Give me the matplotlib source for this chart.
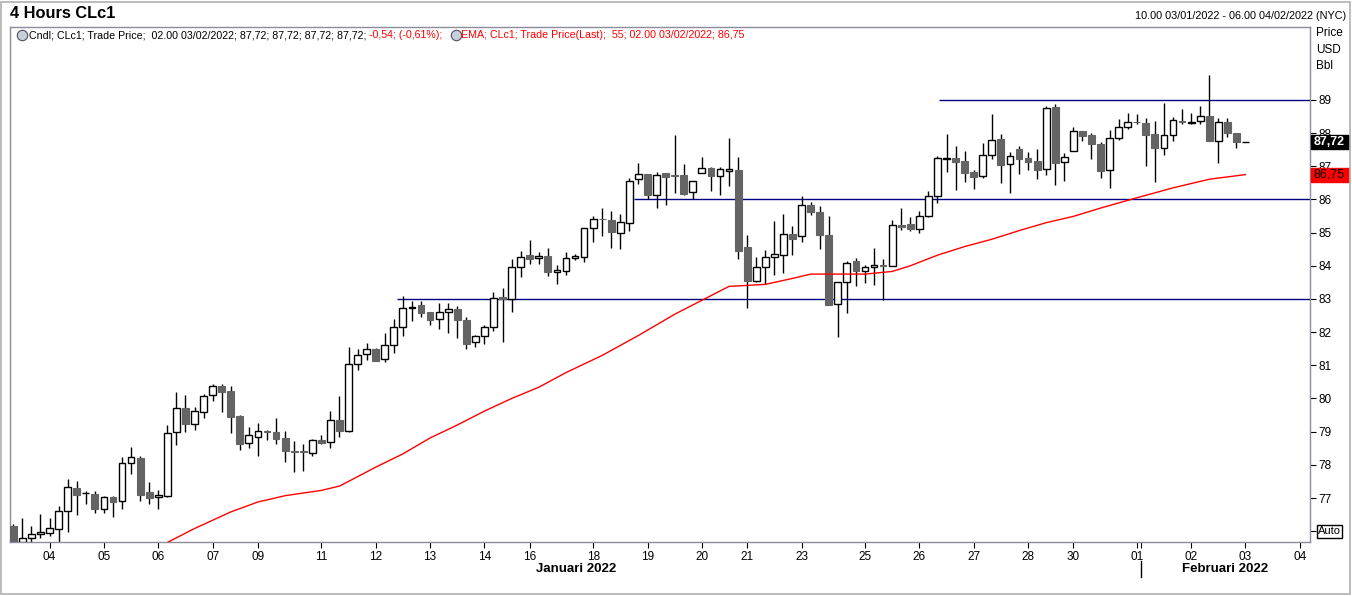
import matplotlib
matplotlib.use("Agg")
import matplotlib.pyplot as plt
from matplotlib.patches import Rectangle
from matplotlib.lines import Line2D

plt.rcParams["font.family"] = ["Liberation Sans", "DejaVu Sans"]

W, H = 1352, 596

# 4-hour candles, CLc1, 03/01/2022 10.00 -> 03/02/2022 02.00
OPEN = [76.16, 75.67, 75.79, 75.93, 75.94, 76.08, 76.60, 77.30, 77.14, 77.12,
        76.66, 77.03, 76.90, 78.05, 78.21, 77.18, 77.02, 77.07, 78.98, 79.71,
        79.22, 79.59, 80.11, 80.38, 80.23, 79.47, 78.65, 78.83, 79.01, 78.99,
        78.81, 78.41, 78.40, 78.36, 78.75, 78.68, 79.35, 79.03, 81.03, 81.33,
        81.48, 81.18, 81.60, 82.15, 82.72, 82.82, 82.60, 82.39, 82.60, 82.70,
        82.37, 81.69, 81.87, 82.15, 83.06, 83.00, 83.96, 84.32, 84.23, 84.29,
        83.81, 83.83, 84.23, 84.26, 85.13, 85.41, 85.37, 84.98, 85.29, 86.61,
        86.76, 86.13, 86.80, 86.72, 86.74, 86.24, 86.79, 86.94, 86.70, 86.85,
        86.89, 84.57, 83.55, 83.96, 84.26, 84.32, 84.95, 84.89, 85.83, 85.62,
        84.93, 82.84, 83.50, 84.15, 83.84, 83.96, 84.01, 84.00, 85.23, 85.25,
        85.10, 85.51, 86.10, 87.23, 87.24, 87.16, 86.82, 86.70, 87.33, 87.82,
        87.06, 87.52, 87.24, 87.16, 86.91, 88.78, 87.12, 87.45, 88.06, 87.94,
        87.68, 86.88, 87.84, 88.18, 88.34, 88.31, 87.97, 87.54, 87.93, 88.36,
        88.31, 88.36, 88.52, 87.77, 88.34, 88.00, 87.72]
HIGH = [76.22, 76.41, 76.17, 76.52, 76.40, 76.76, 77.57, 77.51, 77.20, 77.21,
        77.06, 77.06, 78.23, 78.53, 78.26, 77.47, 77.24, 79.19, 80.20, 80.11,
        79.74, 80.14, 80.43, 80.43, 80.39, 79.50, 79.13, 79.25, 79.05, 79.41,
        79.02, 78.72, 78.63, 78.77, 78.90, 79.62, 80.09, 81.55, 81.49, 81.67,
        81.52, 81.97, 82.39, 83.09, 82.94, 82.94, 82.60, 82.88, 82.88, 82.79,
        82.46, 81.91, 82.23, 83.20, 83.33, 84.21, 84.44, 84.78, 84.41, 84.53,
        84.02, 84.41, 84.36, 85.13, 85.49, 85.74, 85.64, 85.55, 86.64, 87.09,
        86.76, 86.82, 86.80, 87.94, 87.07, 86.56, 87.28, 86.98, 86.98, 87.85,
        87.28, 84.93, 84.27, 84.48, 85.36, 85.56, 85.20, 86.11, 85.92, 85.79,
        85.50, 83.50, 84.15, 84.24, 84.03, 84.55, 84.21, 85.38, 85.73, 85.47,
        85.64, 86.26, 87.31, 87.97, 87.61, 87.46, 86.89, 87.70, 88.58, 87.97,
        87.43, 87.61, 87.43, 87.51, 88.81, 88.87, 87.41, 88.19, 88.06, 88.00,
        87.74, 88.09, 88.42, 88.61, 88.58, 88.46, 88.37, 88.91, 88.49, 88.74,
        88.61, 88.81, 89.75, 88.45, 88.46, 88.00, 87.72]
LOW = [75.50, 75.60, 75.67, 75.80, 75.86, 75.67, 75.99, 76.50, 76.82, 76.56,
       76.56, 76.44, 76.68, 77.71, 76.92, 76.83, 76.66, 77.02, 78.60, 79.00,
       79.05, 79.42, 79.93, 79.58, 78.95, 78.45, 78.52, 78.28, 78.76, 78.64,
       78.10, 77.77, 77.80, 78.28, 78.62, 78.52, 78.83, 79.00, 80.87, 81.16,
       81.14, 81.11, 81.38, 81.89, 82.35, 82.47, 82.23, 82.10, 81.98, 81.81,
       81.48, 81.54, 81.65, 82.04, 81.71, 82.62, 83.67, 84.05, 84.05, 83.69,
       83.46, 83.71, 84.17, 84.11, 84.71, 84.89, 84.53, 84.50, 85.06, 86.48,
       86.00, 85.75, 85.83, 86.19, 86.14, 86.00, 86.79, 86.27, 86.14, 86.40,
       84.21, 82.74, 83.50, 83.45, 83.71, 83.77, 84.34, 84.73, 85.54, 84.52,
       82.83, 81.86, 82.59, 83.40, 83.49, 83.42, 82.96, 84.00, 85.07, 85.06,
       85.00, 85.46, 85.90, 86.84, 86.29, 86.53, 86.33, 86.64, 87.23, 86.51,
       86.20, 86.78, 86.89, 86.63, 86.75, 86.45, 86.57, 87.45, 87.75, 87.22,
       86.66, 86.34, 87.78, 88.13, 88.27, 87.02, 86.54, 87.35, 87.77, 88.26,
       88.28, 88.28, 87.77, 87.11, 87.88, 87.56, 87.72]
CLOSE = [75.60, 75.79, 75.91, 75.97, 76.09, 76.60, 77.32, 77.09, 77.16, 76.67,
         77.03, 76.89, 78.05, 78.23, 77.10, 77.01, 77.09, 78.95, 79.70, 79.24,
         79.61, 80.07, 80.37, 80.21, 79.45, 78.64, 78.89, 79.01, 79.00, 78.79,
         78.43, 78.40, 78.39, 78.74, 78.67, 79.34, 79.03, 81.03, 81.30, 81.48,
         81.14, 81.60, 82.15, 82.72, 82.76, 82.59, 82.38, 82.60, 82.69, 82.37,
         81.65, 81.87, 82.15, 83.02, 82.99, 83.96, 84.26, 84.22, 84.29, 83.80,
         83.87, 84.23, 84.29, 85.13, 85.40, 85.40, 85.01, 85.31, 86.57, 86.76,
         86.14, 86.74, 86.69, 86.71, 86.17, 86.55, 86.94, 86.72, 86.91, 86.91,
         84.46, 83.55, 83.96, 84.28, 84.35, 84.95, 84.82, 85.82, 85.63, 84.94,
         82.83, 83.50, 84.08, 83.85, 83.96, 84.02, 84.00, 85.22, 85.16, 85.10,
         85.51, 86.10, 87.24, 87.26, 87.14, 86.81, 86.69, 87.33, 87.78, 87.05,
         87.30, 87.23, 87.13, 86.90, 88.75, 87.11, 87.29, 88.06, 87.92, 87.66,
         86.87, 87.84, 88.18, 88.33, 88.33, 87.95, 87.56, 87.93, 88.39, 88.35,
         88.35, 88.51, 87.77, 88.33, 88.00, 87.74, 87.72]

# EMA(55), at candle index
EMA_IDX = [16, 17, 20, 24, 27, 30, 34, 36, 37, 40, 43, 46, 49, 52, 55, 58, 61,
           65, 69, 73, 76, 79, 81, 83, 86, 88, 90, 94, 97, 99, 102, 105, 108,
           111, 114, 117, 120, 124, 128, 132, 136]
EMA_VAL = [75.45, 75.66, 76.08, 76.58, 76.88, 77.07, 77.23, 77.36, 77.50, 77.93,
           78.33, 78.81, 79.20, 79.62, 80.00, 80.34, 80.78, 81.30, 81.90, 82.54,
           82.96, 83.38, 83.41, 83.44, 83.62, 83.75, 83.75, 83.75, 83.83, 84.00,
           84.32, 84.58, 84.80, 85.06, 85.30, 85.49, 85.74, 86.05, 86.35, 86.61,
           86.75]

# horizontal support / resistance lines: price and first candle index
LEVELS = [83.0, 86.0, 89.0]
LEVEL_START = [42.4, 68.5, 102.2]

DATE_POS = [4, 10, 16, 22, 27, 34, 40, 46, 52, 57, 64, 70, 76, 81, 87, 94,
            100, 106, 112, 117, 124, 130, 136, 142]
DATE_LABELS = ["04", "05", "06", "07", "09", "11", "12", "13", "14", "16",
               "18", "19", "20", "21", "23", "25", "26", "27", "28", "30",
               "01", "02", "03", "04"]
MONTH_SPLIT = 124.45
MONTHS = [(62.1, "Januari 2022"), (133.7, "Februari 2022")]

PRICE_TICKS = list(range(76, 90))
LAST_PRICE = 87.72
LAST_EMA = 86.75

DARK = "#646464"
AXC = "#8c8c9c"
NAVY = "#000080"
RED = "#ff0000"


def fx(px):
    return px / W


def fy(py):
    return 1 - py / H


fig = plt.figure(figsize=(W / 100, H / 100), dpi=100)
fig.patch.set_facecolor("white")
fig.add_artist(Rectangle((fx(1), fy(594)), fx(1349), (593 - 1) / H, transform=fig.transFigure,
                         fill=False, edgecolor="#b0b0b0", linewidth=1.2))

ax = fig.add_axes([fx(9.5), fy(542.3), fx(1310 - 9.5), (542.3 - 27.3) / H])
ax.set_xlim(-0.42, 143.12)
ax.set_ylim(75.665, 91.19)

# candles
for i, (o, h, l, c) in enumerate(zip(OPEN, HIGH, LOW, CLOSE)):
    ax.vlines(i, l, h, color="black", linewidth=1.0, zorder=2)
    up = c >= o
    bottom = min(o, c)
    height = max(abs(c - o), 0.02)
    if up:
        ax.bar(i, height, bottom=bottom, width=0.75, facecolor="white",
               edgecolor="black", linewidth=1.0, zorder=3)
    else:
        ax.bar(i, height, bottom=bottom, width=0.75, facecolor=DARK,
               edgecolor=DARK, linewidth=0.8, zorder=3)

ax.plot(EMA_IDX, EMA_VAL, color=RED, linewidth=1.0, zorder=4)

for lvl, start in zip(LEVELS, LEVEL_START):
    ax.hlines(lvl, start, 143.12, color=NAVY, linewidth=1.0, zorder=1)

for sp in ax.spines.values():
    sp.set_color(AXC)
    sp.set_linewidth(1.0)

# price axis on the right
ax.yaxis.tick_right()
ax.set_yticks(PRICE_TICKS)
ax.set_yticklabels(["" if t == 76 else str(t) for t in PRICE_TICKS])
ax.tick_params(axis="y", length=4, width=0.8, color="black", pad=2, labelsize=8.5)

ax.set_xticks(DATE_POS + [MONTH_SPLIT])
ax.set_xticklabels(DATE_LABELS + [""])
ax.tick_params(axis="x", length=4, width=0.8, color="black", pad=2, labelsize=8.5)

xt = ax.get_xaxis_transform()
ax.add_line(Line2D([MONTH_SPLIT, MONTH_SPLIT], [-0.0363, -0.0674], transform=xt,
                   color="black", linewidth=1.0, clip_on=False))
for pos, lab in MONTHS:
    ax.text(pos, -0.0513, lab, transform=xt, ha="center", va="center",
            fontsize=9.5, fontweight="bold", clip_on=False)

# value boxes on the price axis
yt = ax.get_yaxis_transform()
bw = 38 / (1310 - 9.5)
bh = 14 / 33.17
ax.add_patch(Rectangle((1.0008, LAST_PRICE - bh / 2), bw, bh, transform=yt,
                       facecolor="black", edgecolor="black", clip_on=False, zorder=10))
ax.text(1.0025, LAST_PRICE, "87,72", transform=yt, ha="left", va="center",
        color="white", fontsize=9, fontweight="bold", clip_on=False, zorder=11)
ax.add_patch(Rectangle((1.0008, LAST_EMA - bh / 2), bw, bh, transform=yt,
                       facecolor=RED, edgecolor=RED, clip_on=False, zorder=10))
ax.text(1.0025, LAST_EMA, "86,75", transform=yt, ha="left", va="center",
        color="black", fontsize=9, clip_on=False, zorder=11)
ax.text(1.0062, 76.0, "Auto", transform=yt, ha="left", va="center",
        fontsize=8, clip_on=False, zorder=11,
        bbox=dict(boxstyle="square,pad=0.12", facecolor="white", edgecolor="black", linewidth=1))

for py, lab in [(33, "Price"), (50, "USD"), (66, "Bbl")]:
    fig.text(fx(1316), fy(py), lab, ha="left", va="center", fontsize=8.5)

# header
fig.text(fx(10), fy(13), "4 Hours CLc1", ha="left", va="center", fontsize=11.8, fontweight="bold")
fig.text(fx(1346), fy(16), "10.00 03/01/2022 - 06.00 04/02/2022 (NYC)", ha="right",
         va="center", fontsize=7.8)


# legend line inside the plot
def clock(px, py):
    fig.add_artist(Line2D([fx(px)], [fy(py)], marker="o", markersize=7.5,
                          markerfacecolor="#c8d0dc", markeredgecolor="#505060",
                          markeredgewidth=0.8, transform=fig.transFigure))


clock(22, 35)
t1 = fig.text(fx(29), fy(35), "Cndl; CLc1; Trade Price;  02.00 03/02/2022; 87,72; 87,72; 87,72; 87,72; ",
              ha="left", va="center", fontsize=7.7)
ax.annotate("-0,54; (-0,61%);", xy=(1, 0.5), xycoords=t1, ha="left", va="center",
            color=RED, fontsize=7.7, annotation_clip=False)
clock(456, 35)
fig.text(fx(461), fy(35), "EMA; CLc1; Trade Price(Last);  55; 02.00 03/02/2022; 86,75",
         ha="left", va="center", color=RED, fontsize=7.7)

fig.savefig("out.png", dpi=100)
